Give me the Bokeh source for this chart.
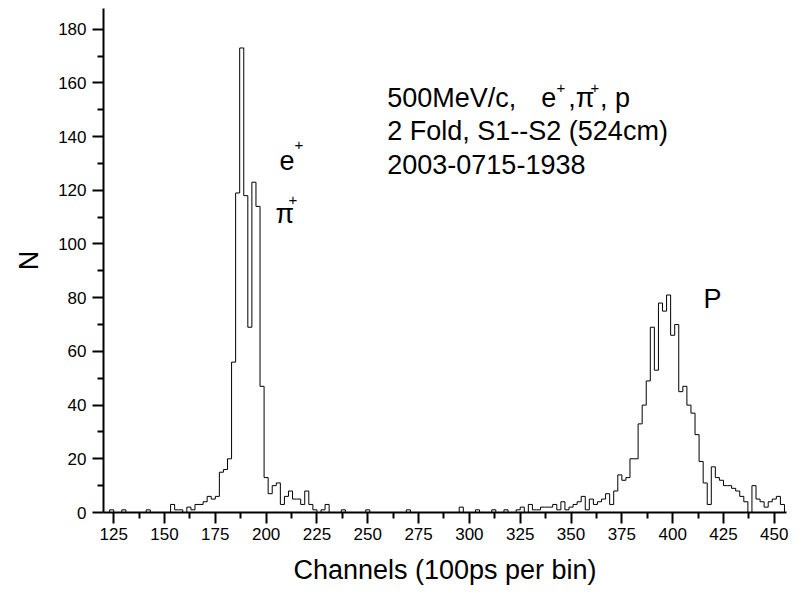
from bokeh.plotting import figure
from bokeh.models import Range1d, FixedTicker, Label
from bokeh.embed import file_html
from bokeh.resources import INLINE

# histogram: bin centres (2-channel bins) and counts
channels = list(range(120, 456, 2))
counts_120_198 = [0, 0, 1, 0, 0, 1, 0, 0, 0, 0,      # 120-138
                  0, 1, 0, 0, 0, 0, 0, 3, 1, 1,      # 140-158
                  0, 2, 1, 3, 3, 4, 6, 5, 6, 15,     # 160-178
                  16, 20, 56, 119, 173, 118, 69, 123, 114, 47]  # 180-198
counts_200_278 = [13, 7, 10, 11, 3, 6, 8, 5, 5, 3,   # 200-218
                  8, 3, 1, 0, 1, 3, 0, 0, 0, 1,      # 220-238
                  0, 0, 0, 0, 0, 1, 0, 0, 0, 0,      # 240-258
                  0, 0, 0, 0, 0, 1, 0, 0, 0, 0]      # 260-278
counts_280_358 = [0, 0, 0, 0, 0, 0, 0, 0, 2, 0,      # 280-298
                  0, 0, 1, 0, 0, 0, 1, 0, 0, 1,      # 300-318
                  0, 0, 1, 2, 0, 3, 1, 1, 2, 2,      # 320-338
                  2, 3, 1, 4, 1, 2, 3, 4, 6, 1]      # 340-358
counts_360_454 = [5, 3, 4, 5, 7, 3, 8, 14, 12, 13,   # 360-378
                  20, 20, 33, 40, 49, 69, 53, 78, 75, 81,  # 380-398
                  66, 70, 45, 47, 40, 37, 29, 19, 11, 3,   # 400-418
                  17, 13, 12, 10, 10, 9, 8, 6, 4, 0,       # 420-438
                  10, 5, 4, 2, 4, 5, 6, 3]                 # 440-454
counts = counts_120_198 + counts_200_278 + counts_280_358 + counts_360_454
bin_width = 2

x_ticks = [125, 150, 175, 200, 225, 250, 275, 300, 325, 350, 375, 400, 425, 450]
x_minor = [137.5, 162.5, 187.5, 212.5, 237.5, 262.5, 287.5, 312.5, 337.5,
           362.5, 387.5, 412.5, 437.5]
y_ticks = [0, 20, 40, 60, 80, 100, 120, 140, 160, 180]
y_minor = [10, 30, 50, 70, 90, 110, 130, 150, 170]

FONT = "Liberation Sans"

p = figure(width=799, height=595, output_backend="svg", toolbar_location=None,
           x_range=Range1d(120, 456), y_range=Range1d(0, 187.7),
           min_border_left=103, min_border_right=13,
           min_border_top=8, min_border_bottom=83)
p.outline_line_color = None
p.xgrid.visible = False
p.ygrid.visible = False
p.background_fill_color = "white"
p.border_fill_color = "white"

# step outline of the histogram (edges with a drop to zero at the end)
edges = [c - bin_width / 2 for c in channels] + [channels[-1] + bin_width / 2]
ys = counts + [0]
p.step(edges, ys, mode="after", line_color="black", line_width=1)

for ax, ticks, minor in ((p.xaxis[0], x_ticks, x_minor), (p.yaxis[0], y_ticks, y_minor)):
    ax.ticker = FixedTicker(ticks=ticks, minor_ticks=minor)
    ax.axis_line_width = 2
    ax.axis_line_color = "black"
    ax.major_tick_in = 0
    ax.major_tick_out = 11
    ax.minor_tick_in = 0
    ax.minor_tick_out = 6
    ax.major_tick_line_width = 2
    ax.minor_tick_line_width = 2
    ax.major_tick_line_color = "black"
    ax.minor_tick_line_color = "black"
    ax.major_label_text_font = FONT
    ax.major_label_text_font_size = "17px"
    ax.major_label_text_color = "black"
    ax.axis_label_text_font = FONT
    ax.axis_label_text_font_size = "27px"
    ax.axis_label_text_font_style = "normal"
    ax.axis_label_text_color = "black"

p.xaxis.axis_label = "Channels (100ps per bin)"
p.xaxis.major_label_standoff = 4
p.xaxis.axis_label_standoff = 12
p.yaxis.axis_label = "N"
p.yaxis.major_label_standoff = 6
p.yaxis.axis_label_standoff = 11


def lab(x, y, text, size="27px", align="left"):
    p.add_layout(Label(x=x, y=y, text=text, text_font=FONT, text_font_size=size,
                       text_color="black", text_baseline="alphabetic",
                       text_align=align))


# info block
lab(259.6, 154.4, "500MeV/c,")
lab(335.3, 154.4, "e")
lab(342.9, 158.2, "+", size="15px")
lab(348.6, 154.4, ",\u03c0")
lab(359.6, 158.2, "+", size="15px")
lab(364.2, 154.4, ", p")
lab(259.6, 142.2, "2 Fold, S1--S2 (524cm)")
lab(259.6, 129.6, "2003-0715-1938")

# peak labels
lab(206.6, 131.1, "e")
lab(214.0, 136.7, "+", size="15px")
lab(204.6, 111.0, "\u03c0")
lab(211.0, 116.2, "+", size="15px")
lab(415.2, 79.4, "P")

# stray digit at the bottom-left edge (kept inside the page)
lab(70.0, -9.3, "0", size="22px", align="left")

open("out.html", "w").write(file_html(p, INLINE))
